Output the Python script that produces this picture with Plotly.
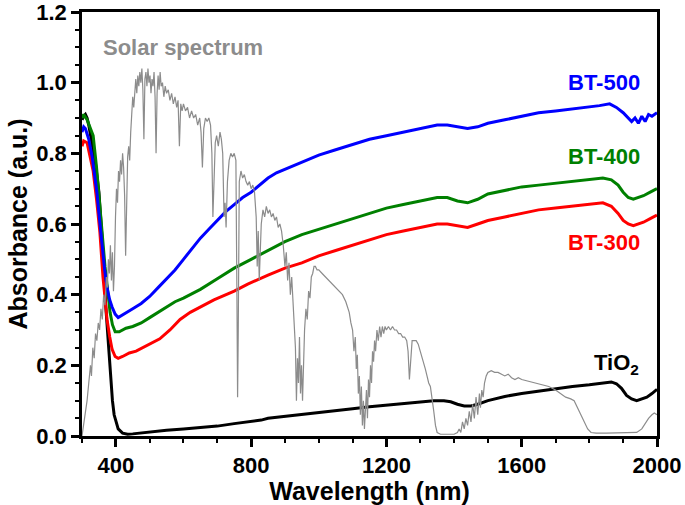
import plotly.graph_objects as go

# Solar spectrum (scaled)
solar_nm = [300, 305, 310, 315, 320, 325, 328, 332, 336, 340, 344, 348, 352, 356, 360, 364, 368, 372, 375, 378,
            381, 384, 387, 390, 393, 396, 399, 402, 405, 408, 411, 414, 417, 420, 423, 426, 429, 432, 435, 438,
            441, 444, 447, 450, 453, 456, 459, 462, 465, 468, 471, 474, 477, 480, 483, 486, 489, 492, 495, 498,
            501, 504, 507, 510, 513, 516, 519, 522, 525, 528, 531, 534, 538, 542, 546, 550, 555, 560, 565, 570,
            575, 580, 584, 588, 592, 596, 600, 606, 612, 618, 624, 630, 636, 642, 648, 652, 656, 660, 665, 670,
            675, 680, 684, 687, 690, 694, 698, 703, 708, 712, 716, 720, 723, 726, 730, 735, 740, 745, 750, 755,
            758, 760, 762, 765, 770, 775, 780, 785, 790, 795, 800, 805, 810, 815, 818, 821, 824, 827, 830, 835,
            840, 845, 850, 855, 860, 865, 870, 875, 880, 885, 890, 895, 900, 904, 908, 912, 916, 920, 924, 928,
            931, 934, 937, 940, 943, 946, 949, 952, 955, 958, 962, 966, 970, 974, 978, 982, 986, 990, 995, 1000,
            1010, 1020, 1030, 1040, 1050, 1060, 1070, 1080, 1090, 1095, 1100, 1104, 1108, 1111, 1114, 1117, 1120, 1123, 1126, 1129,
            1132, 1135, 1138, 1141, 1144, 1147, 1150, 1153, 1156, 1159, 1162, 1165, 1168, 1172, 1176, 1180, 1184, 1188, 1192, 1196,
            1200, 1206, 1212, 1218, 1224, 1230, 1236, 1242, 1248, 1254, 1260, 1264, 1268, 1272, 1276, 1282, 1288, 1294, 1300, 1305,
            1310, 1315, 1320, 1325, 1330, 1335, 1340, 1345, 1350, 1360, 1380, 1400, 1410, 1415, 1420, 1425, 1430, 1435, 1440, 1445,
            1450, 1455, 1460, 1465, 1470, 1475, 1478, 1482, 1486, 1490, 1495, 1500, 1510, 1520, 1530, 1540, 1550, 1560, 1570, 1580,
            1590, 1600, 1620, 1640, 1660, 1680, 1700, 1715, 1730, 1745, 1755, 1765, 1775, 1785, 1795, 1805, 1820, 1850, 1880, 1910,
            1940, 1955, 1965, 1975, 1985, 1992, 2000]
solar_val = [0.00, 0.03, 0.06, 0.10, 0.15, 0.20, 0.17, 0.25, 0.22, 0.29, 0.27, 0.32, 0.30, 0.36, 0.33, 0.40, 0.37, 0.45, 0.42, 0.50,
             0.46, 0.54, 0.44, 0.52, 0.41, 0.48, 0.62, 0.70, 0.66, 0.75, 0.72, 0.78, 0.74, 0.80, 0.76, 0.68, 0.51, 0.70, 0.79, 0.82,
             0.78, 0.86, 0.90, 0.96, 0.93, 0.99, 1.01, 0.97, 1.02, 0.99, 1.03, 1.00, 1.04, 0.98, 0.84, 1.01, 1.03, 0.99, 1.04, 1.00,
             1.02, 0.97, 1.01, 0.99, 1.03, 0.96, 0.80, 0.97, 1.02, 0.98, 1.03, 0.99, 1.00, 0.96, 0.99, 0.97, 0.98, 0.95, 0.97, 0.94,
             0.96, 0.93, 0.95, 0.82, 0.94, 0.92, 0.94, 0.92, 0.93, 0.90, 0.92, 0.90, 0.91, 0.88, 0.90, 0.86, 0.76, 0.87, 0.90, 0.89,
             0.90, 0.88, 0.80, 0.62, 0.70, 0.83, 0.85, 0.82, 0.86, 0.84, 0.80, 0.62, 0.66, 0.59, 0.72, 0.78, 0.80, 0.79, 0.80, 0.78,
             0.40, 0.11, 0.30, 0.72, 0.75, 0.73, 0.74, 0.72, 0.71, 0.72, 0.70, 0.71, 0.69, 0.62, 0.48, 0.58, 0.44, 0.55, 0.60, 0.64,
             0.62, 0.65, 0.63, 0.64, 0.62, 0.63, 0.61, 0.62, 0.59, 0.60, 0.58, 0.54, 0.48, 0.52, 0.44, 0.49, 0.40, 0.45, 0.38, 0.33,
             0.25, 0.10, 0.22, 0.15, 0.28, 0.12, 0.20, 0.10, 0.24, 0.30, 0.36, 0.33, 0.41, 0.39, 0.45, 0.46, 0.48, 0.48, 0.47, 0.47,
             0.46, 0.45, 0.44, 0.43, 0.42, 0.41, 0.40, 0.38, 0.35, 0.32, 0.30, 0.24, 0.28, 0.19, 0.23, 0.12, 0.17, 0.06, 0.14, 0.03,
             0.10, 0.02, 0.08, 0.13, 0.05, 0.16, 0.11, 0.20, 0.15, 0.24, 0.21, 0.27, 0.24, 0.30, 0.27, 0.31, 0.28, 0.31, 0.29, 0.31,
             0.30, 0.31, 0.30, 0.31, 0.30, 0.30, 0.29, 0.29, 0.28, 0.28, 0.27, 0.24, 0.16, 0.22, 0.27, 0.27, 0.27, 0.26, 0.24, 0.23,
             0.21, 0.19, 0.17, 0.15, 0.14, 0.11, 0.07, 0.03, 0.01, 0.005, 0.005, 0.005, 0.01, 0.02, 0.01, 0.04, 0.02, 0.05, 0.03, 0.07,
             0.04, 0.09, 0.05, 0.11, 0.06, 0.12, 0.08, 0.13, 0.11, 0.15, 0.17, 0.18, 0.185, 0.18, 0.18, 0.175, 0.17, 0.175, 0.165, 0.16,
             0.165, 0.16, 0.155, 0.15, 0.145, 0.14, 0.13, 0.12, 0.11, 0.105, 0.10, 0.08, 0.06, 0.04, 0.02, 0.01, 0.008, 0.008, 0.008, 0.008,
             0.01, 0.02, 0.035, 0.05, 0.06, 0.065, 0.06]

bt500_nm = [300, 305, 310, 320, 330, 340, 344, 350, 359, 367, 374, 382, 389, 398, 407, 415, 430, 450, 475, 500,
            525, 550, 575, 600, 625, 650, 675, 700, 725, 750, 775, 800, 825, 850, 875, 900, 950, 1000, 1050, 1100,
            1150, 1200, 1250, 1300, 1350, 1380, 1410, 1440, 1470, 1500, 1550, 1600, 1650, 1700, 1750, 1800, 1830, 1860, 1880, 1900,
            1915, 1925, 1935, 1945, 1955, 1965, 1975, 1985, 2000]
bt500_val = [0.86, 0.875, 0.87, 0.84, 0.79, 0.72, 0.69, 0.63, 0.535, 0.47, 0.42, 0.385, 0.365, 0.345, 0.335, 0.34, 0.35, 0.36, 0.375, 0.395,
             0.42, 0.445, 0.47, 0.50, 0.53, 0.56, 0.585, 0.61, 0.635, 0.655, 0.675, 0.69, 0.71, 0.73, 0.745, 0.755, 0.775, 0.795, 0.81, 0.825,
             0.84, 0.85, 0.86, 0.87, 0.88, 0.88, 0.875, 0.87, 0.875, 0.885, 0.895, 0.905, 0.915, 0.92, 0.925, 0.93, 0.935, 0.94, 0.93, 0.915,
             0.90, 0.89, 0.90, 0.885, 0.905, 0.89, 0.91, 0.905, 0.915]

bt400_nm = [300, 305, 315, 325, 333, 343, 353, 360, 368, 375, 383, 390, 398, 410, 430, 450, 475, 500, 525, 550,
            575, 600, 650, 700, 750, 800, 850, 900, 950, 1000, 1050, 1100, 1150, 1200, 1250, 1300, 1350, 1380, 1410, 1440,
            1470, 1500, 1550, 1600, 1650, 1700, 1750, 1800, 1840, 1865, 1885, 1900, 1915, 1930, 1945, 1960, 1980, 2000]
bt400_val = [0.90, 0.91, 0.895, 0.87, 0.85, 0.76, 0.66, 0.57, 0.48, 0.41, 0.35, 0.315, 0.295, 0.295, 0.305, 0.31, 0.32, 0.335, 0.35, 0.365,
             0.38, 0.39, 0.415, 0.445, 0.475, 0.50, 0.525, 0.55, 0.57, 0.585, 0.60, 0.615, 0.63, 0.645, 0.655, 0.665, 0.675, 0.675, 0.665, 0.66,
             0.67, 0.685, 0.695, 0.705, 0.71, 0.715, 0.72, 0.725, 0.73, 0.725, 0.71, 0.69, 0.675, 0.67, 0.675, 0.68, 0.69, 0.70]

bt300_nm = [300, 305, 315, 325, 333, 343, 353, 362, 368, 374, 382, 389, 398, 407, 420, 440, 460, 480, 500, 530,
            560, 590, 620, 650, 690, 750, 790, 850, 900, 950, 1000, 1050, 1100, 1150, 1200, 1250, 1300, 1350, 1380, 1410,
            1440, 1470, 1500, 1550, 1600, 1650, 1700, 1750, 1800, 1840, 1865, 1885, 1900, 1915, 1930, 1945, 1960, 1980, 2000]
bt300_val = [0.82, 0.835, 0.83, 0.79, 0.75, 0.67, 0.575, 0.45, 0.39, 0.33, 0.28, 0.245, 0.225, 0.22, 0.225, 0.235, 0.24, 0.25, 0.26, 0.275,
             0.30, 0.33, 0.35, 0.365, 0.385, 0.41, 0.43, 0.455, 0.475, 0.49, 0.51, 0.525, 0.54, 0.555, 0.57, 0.58, 0.59, 0.60, 0.60, 0.595,
             0.59, 0.60, 0.61, 0.62, 0.63, 0.64, 0.645, 0.65, 0.655, 0.66, 0.65, 0.63, 0.61, 0.60, 0.595, 0.60, 0.605, 0.615, 0.625]

tio2_nm = [300, 305, 310, 315, 320, 330, 340, 350, 360, 370, 380, 385, 390, 395, 400, 407, 420, 435, 450, 500,
           550, 600, 650, 700, 750, 800, 830, 850, 900, 950, 1000, 1050, 1100, 1150, 1200, 1250, 1300, 1340, 1370, 1390,
           1410, 1430, 1450, 1470, 1500, 1550, 1600, 1650, 1700, 1750, 1800, 1840, 1865, 1880, 1895, 1910, 1925, 1940, 1955, 1970,
           1985, 2000]
tio2_val = [0.895, 0.905, 0.91, 0.90, 0.88, 0.83, 0.77, 0.69, 0.55, 0.37, 0.22, 0.15, 0.10, 0.06, 0.04, 0.02, 0.008, 0.005, 0.006, 0.012,
            0.016, 0.02, 0.024, 0.028, 0.035, 0.04, 0.045, 0.05, 0.055, 0.06, 0.066, 0.072, 0.077, 0.083, 0.088, 0.093, 0.098, 0.10, 0.10, 0.097,
            0.09, 0.085, 0.085, 0.09, 0.10, 0.112, 0.12, 0.127, 0.133, 0.14, 0.145, 0.15, 0.153, 0.148, 0.135, 0.115, 0.105, 0.10, 0.105, 0.11,
            0.12, 0.132]

x_ticks = [400, 800, 1200, 1600, 2000]
y_ticks = [0.0, 0.2, 0.4, 0.6, 0.8, 1.0, 1.2]

FONT = "Liberation Sans, Arial, sans-serif"

fig = go.Figure()
for xs, ys, col in [(tio2_nm, tio2_val, "black"),
                    (bt300_nm, bt300_val, "#ff0000"),
                    (bt400_nm, bt400_val, "#008000"),
                    (bt500_nm, bt500_val, "#0000ff")]:
    fig.add_trace(go.Scatter(x=xs, y=ys, mode="lines", line=dict(color=col, width=3)))
fig.add_trace(go.Scatter(x=solar_nm, y=solar_val, mode="lines", line=dict(color="#8c8c8c", width=1.2)))

labels = [("Solar spectrum", 598, 1.10, "#8c8c8c"),
          ("BT-500", 1843, 1.0, "#0000ff"),
          ("BT-400", 1843, 0.79, "#008000"),
          ("BT-300", 1843, 0.549, "#ff0000"),
          ("TiO<sub>2</sub>", 1880, 0.205, "black")]
for txt, x, y, col in labels:
    fig.add_annotation(x=x, y=y, text=txt, showarrow=False,
                       font=dict(family=FONT, size=22, color=col, weight="bold"))

axis_common = dict(showline=True, linecolor="black", linewidth=2.5, mirror=True,
                   ticks="outside", ticklen=8, tickwidth=2.5, tickcolor="black",
                   showgrid=False, zeroline=False, automargin=False,
                   ticklabeloverflow="allow",
                   tickfont=dict(family=FONT, size=22, color="black", weight="bold"))

fig.update_xaxes(range=[300, 2000], tickvals=x_ticks,
                 minor=dict(dtick=100, tick0=300, ticks="outside", ticklen=4.5, tickwidth=2, tickcolor="black"),
                 title=dict(text="Wavelength (nm)", standoff=4,
                            font=dict(family=FONT, size=25, color="black", weight="bold")),
                 **axis_common)
fig.update_yaxes(range=[0, 1.2], tickvals=y_ticks, tickformat=".1f",
                 minor=dict(dtick=0.05, ticks="outside", ticklen=4.5, tickwidth=2, tickcolor="black"),
                 title=dict(text="Absorbance (a.u.)", standoff=2,
                            font=dict(family=FONT, size=25, color="black", weight="bold")),
                 **axis_common)

fig.update_layout(width=685, height=505, showlegend=False,
                  plot_bgcolor="white", paper_bgcolor="white",
                  margin=dict(l=82, r=28, t=12, b=69))

# page body has a default 8px margin; remove it so the figure fills the window
fig.write_html("out.html", config={"displayModeBar": False},
               post_script="document.body.style.margin='0';")
